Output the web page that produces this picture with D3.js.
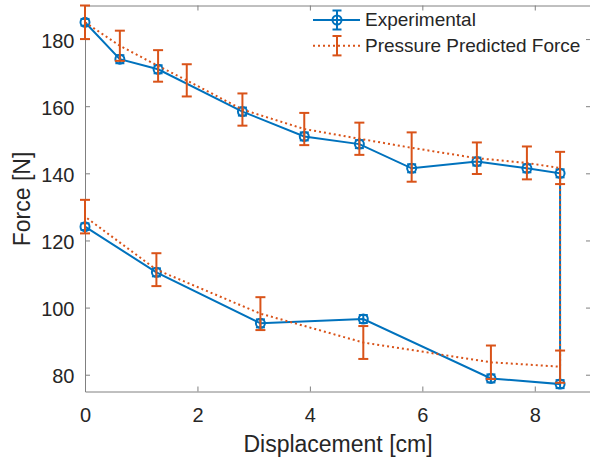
<!DOCTYPE html>
<html><head><meta charset="utf-8">
<script src="https://cdn.jsdelivr.net/npm/d3@7"></script>
<style>body{margin:0;background:#fff}svg{display:block;font-family:"Liberation Sans",Arial,Helvetica,sans-serif}</style>
</head><body><svg id="c" width="590" height="460"></svg>
<script>
// Experimental (loop: upper branch out, lower branch back)
const expX   = [0, 0.62, 1.30, 2.80, 3.90, 4.88, 5.81, 6.97, 7.86, 8.45, 8.45, 7.22, 4.95, 3.12, 1.27, 0];
const expY   = [185.0, 174.0, 171.0, 158.4, 151.0, 148.7, 141.5, 143.5, 141.5, 140.0, 77.2, 78.9, 96.6, 95.3, 110.5, 124.1];
const expErr = [1.0, 1.2, 1.2, 1.2, 1.2, 1.2, 1.2, 1.2, 1.2, 1.2, 1.2, 1.2, 1.2, 1.2, 1.2, 1.0];
// Pressure predicted force
const preX     = [0, 0.62, 1.30, 1.81, 2.80, 3.90, 4.88, 5.81, 6.97, 7.86, 8.45, 8.45, 7.22, 4.95, 3.12, 1.27, 0];
const preY     = [185.0, 178.0, 172.0, 167.7, 159.0, 153.2, 150.3, 147.6, 144.5, 143.1, 141.6, 82.4, 83.7, 89.6, 98.2, 111.3, 127.1];
const preErrLo = [5.0, 4.5, 4.7, 4.8, 4.8, 4.8, 4.8, 10.1, 4.7, 4.9, 4.8, 4.8, 5.0, 4.9, 4.9, 4.9, 5.0];
const preErrHi = [5.0, 4.5, 4.7, 4.8, 4.8, 4.8, 4.8, 4.6, 4.7, 4.9, 4.8, 4.8, 5.0, 4.9, 4.9, 4.9, 5.0];
const xTicks = [0, 2, 4, 6, 8];
const yTicks = [80, 100, 120, 140, 160, 180];
const seriesNames = ["Experimental", "Pressure Predicted Force"];

const blue = "#0072BD", orange = "#D95319", axisCol = "#808080", txt = "#262626";
const L = 85, R = 591, T = 5.5, B = 391.5;
const svg = d3.select("#c");
const x = d3.scaleLinear().domain([0, 9]).range([L, R]);
const y = d3.scaleLinear().domain([75, 190]).range([B, T]);

// axes
const gx = svg.append("g").attr("transform", `translate(0,${B})`)
  .call(d3.axisBottom(x).tickValues(xTicks).tickSizeInner(-5).tickSizeOuter(0).tickPadding(16.5));
const gy = svg.append("g").attr("transform", `translate(${L},0)`)
  .call(d3.axisLeft(y).tickValues(yTicks).tickSizeInner(-5).tickSizeOuter(0).tickPadding(10.5));
const gxt = svg.append("g").attr("transform", `translate(0,${T})`)
  .call(d3.axisTop(x).tickValues(xTicks).tickSizeInner(-5).tickSizeOuter(0).tickFormat(""));
const gyr = svg.append("g").attr("transform", `translate(${R},0)`)
  .call(d3.axisRight(y).tickValues(yTicks).tickSizeInner(-5).tickSizeOuter(0).tickFormat(""));
[gx, gy, gxt, gyr].forEach(g => {
  g.selectAll("path.domain").attr("stroke", axisCol).attr("stroke-width", 1);
  g.selectAll(".tick line").attr("stroke", axisCol);
  g.selectAll(".tick text").attr("fill", txt).style("font-size", "20px");
});
gy.selectAll(".tick text").attr("dy", "0.4em");

const plot = svg.append("g");
const line = d3.line().x(d => x(d[0])).y(d => y(d[1]));
const expPts = expX.map((v, i) => [v, expY[i], expErr[i], expErr[i]]);
const prePts = preX.map((v, i) => [v, preY[i], preErrLo[i], preErrHi[i]]);

// experimental
plot.append("path").datum(expPts).attr("d", line).attr("fill", "none")
  .attr("stroke", blue).attr("stroke-width", 2);
const eb = plot.append("g").attr("stroke", blue).attr("stroke-width", 2).attr("fill", "none");
expPts.forEach(d => {
  const cx = x(d[0]), y1 = y(d[1] + d[3]), y2 = y(d[1] - d[2]);
  eb.append("line").attr("x1", cx).attr("x2", cx).attr("y1", y1).attr("y2", y2);
  eb.append("line").attr("x1", cx - 4.5).attr("x2", cx + 4.5).attr("y1", y1).attr("y2", y1);
  eb.append("line").attr("x1", cx - 4.5).attr("x2", cx + 4.5).attr("y1", y2).attr("y2", y2);
  eb.append("circle").attr("cx", cx).attr("cy", y(d[1])).attr("r", 4.5);
});

// predicted
plot.append("path").datum(prePts).attr("d", line).attr("fill", "none")
  .attr("stroke", orange).attr("stroke-width", 2).attr("stroke-dasharray", "2,3");
const ob = plot.append("g").attr("stroke", orange).attr("stroke-width", 2);
prePts.forEach(d => {
  const cx = x(d[0]), y1 = y(d[1] + d[3]), y2 = y(d[1] - d[2]);
  ob.append("line").attr("x1", cx).attr("x2", cx).attr("y1", y1).attr("y2", y2);
  ob.append("line").attr("x1", cx - 5).attr("x2", cx + 5).attr("y1", y1).attr("y2", y1);
  ob.append("line").attr("x1", cx - 5).attr("x2", cx + 5).attr("y1", y2).attr("y2", y2);
});

// legend
const lg = svg.append("g");
const ly = [20, 45.7];
const lmx = 337;
// entry 1
lg.append("line").attr("x1", 313).attr("x2", 360).attr("y1", ly[0]).attr("y2", ly[0]).attr("stroke", blue).attr("stroke-width", 2);
lg.append("line").attr("x1", lmx).attr("x2", lmx).attr("y1", ly[0] - 9.5).attr("y2", ly[0] + 9.5).attr("stroke", blue).attr("stroke-width", 2);
lg.append("line").attr("x1", lmx - 4.5).attr("x2", lmx + 4.5).attr("y1", ly[0] - 9.5).attr("y2", ly[0] - 9.5).attr("stroke", blue).attr("stroke-width", 2);
lg.append("line").attr("x1", lmx - 4.5).attr("x2", lmx + 4.5).attr("y1", ly[0] + 9.5).attr("y2", ly[0] + 9.5).attr("stroke", blue).attr("stroke-width", 2);
lg.append("circle").attr("cx", lmx).attr("cy", ly[0]).attr("r", 4.5).attr("fill", "none").attr("stroke", blue).attr("stroke-width", 2);
// entry 2
lg.append("line").attr("x1", 313).attr("x2", 360).attr("y1", ly[1]).attr("y2", ly[1]).attr("stroke", orange).attr("stroke-width", 2).attr("stroke-dasharray", "2,3");
lg.append("line").attr("x1", lmx).attr("x2", lmx).attr("y1", ly[1] - 9.7).attr("y2", ly[1] + 9.7).attr("stroke", orange).attr("stroke-width", 2);
lg.append("line").attr("x1", lmx - 4.5).attr("x2", lmx + 4.5).attr("y1", ly[1] - 9.7).attr("y2", ly[1] - 9.7).attr("stroke", orange).attr("stroke-width", 2);
lg.append("line").attr("x1", lmx - 4.5).attr("x2", lmx + 4.5).attr("y1", ly[1] + 9.7).attr("y2", ly[1] + 9.7).attr("stroke", orange).attr("stroke-width", 2);
const lbase = [26, 52];
seriesNames.forEach((n, i) => {
  lg.append("text").attr("x", 365).attr("y", lbase[i]).attr("fill", txt).style("font-size", "19px").text(n);
});

// axis labels
svg.append("text").attr("x", 338).attr("y", 452).attr("text-anchor", "middle")
  .attr("fill", txt).style("font-size", "23px").text("Displacement [cm]");
svg.append("text").attr("transform", `translate(29.5,199) rotate(-90)`).attr("text-anchor", "middle")
  .attr("fill", txt).style("font-size", "23px").text("Force [N]");
</script></body></html>
